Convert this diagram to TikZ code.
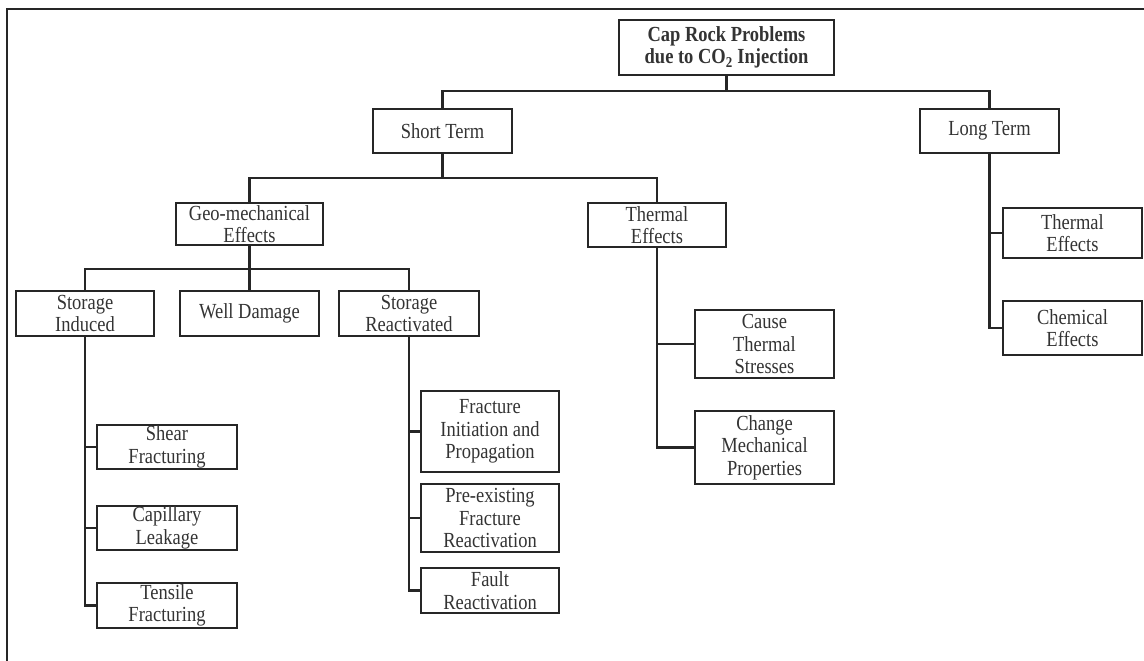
\documentclass[tikz,border=0pt]{standalone}
\usepackage{fontspec}
\setmainfont[FakeStretch=0.86]{Liberation Serif}
\begin{document}
\begin{tikzpicture}[x=1pt,y=-1pt,
  box/.style={draw=black!85,line width=2.1pt,inner sep=0pt,align=center,
    text=black!80,font=\fontsize{21.5}{22.5}\selectfont},
  conn/.style={draw=black!85,line width=2.1pt}]
\useasboundingbox (0,0) rectangle (1144,661);
% outer frame
\draw[line width=2.8pt,black!85] (1146,9) -- (7,9) -- (7,663);
% nodes
\node[box,minimum width=215,minimum height=55,font=\fontsize{21.5}{22.5}\selectfont\bfseries] (root) at (726.5,47.5) {Cap Rock Problems\\due to CO\textsubscript{2} Injection};
\node[box,minimum width=139,minimum height=44] (st) at (442.5,131) {Short Term};
\node[box,minimum width=139,minimum height=44] (lt) at (989.5,131) {Long Term};
\node[box,minimum width=147,minimum height=42] (geo) at (249.5,224) {Geo-mechanical\\Effects};
\node[box,minimum width=138,minimum height=44] (th) at (657,225) {Thermal\\Effects};
\node[box,minimum width=138,minimum height=45] (si) at (85,313.5) {Storage\\Induced};
\node[box,minimum width=139,minimum height=45] (wd) at (249.5,313.5) {Well Damage};
\node[box,minimum width=140,minimum height=45] (sr) at (409,313.5) {Storage\\Reactivated};
\node[box,minimum width=140,minimum height=44] (shear) at (167,447) {Shear\\Fracturing};
\node[box,minimum width=140,minimum height=44] (capl) at (167,528) {Capillary\\Leakage};
\node[box,minimum width=140,minimum height=45] (tens) at (167,605.5) {Tensile\\Fracturing};
\node[box,minimum width=138,minimum height=81] (fi) at (490,431.5) {Fracture\\Initiation and\\Propagation};
\node[box,minimum width=138,minimum height=68] (pe) at (490,518) {Pre-existing\\Fracture\\Reactivation};
\node[box,minimum width=138,minimum height=45] (fr) at (490,590.5) {Fault\\Reactivation};
\node[box,minimum width=139,minimum height=68] (cts) at (764.5,344) {Cause\\Thermal\\Stresses};
\node[box,minimum width=139,minimum height=73] (cmp) at (764.5,447.5) {Change\\Mechanical\\Properties};
\node[box,minimum width=139,minimum height=50] (lte) at (1072.5,233) {Thermal\\Effects};
\node[box,minimum width=139,minimum height=54] (lce) at (1072.5,328) {Chemical\\Effects};
% bar coordinates
\coordinate (b0) at (726.5,91);
\coordinate (b1) at (442.5,178);
\coordinate (b2) at (249.5,269);
% connectors
\draw[conn] (root.south) -- (b0) -| (st.north);
\draw[conn] (b0) -| (lt.north);
\draw[conn] (st.south) -- (b1) -| (geo.north);
\draw[conn] (b1) -| (th.north);
\draw[conn] (geo.south) -- (b2) -| (si.north);
\draw[conn] (b2) -- (wd.north);
\draw[conn] (b2) -| (sr.north);
\draw[conn] (si.south) |- (shear.west);
\draw[conn] (si.south) |- (capl.west);
\draw[conn] (si.south) |- (tens.west);
\draw[conn] (sr.south) |- (fi.west);
\draw[conn] (sr.south) |- (pe.west);
\draw[conn] (sr.south) |- (fr.west);
\draw[conn] (th.south) |- (cts.west);
\draw[conn] (th.south) |- (cmp.west);
\draw[conn] (lt.south) |- (lte.west);
\draw[conn] (lt.south) |- (lce.west);
\end{tikzpicture}
\end{document}
